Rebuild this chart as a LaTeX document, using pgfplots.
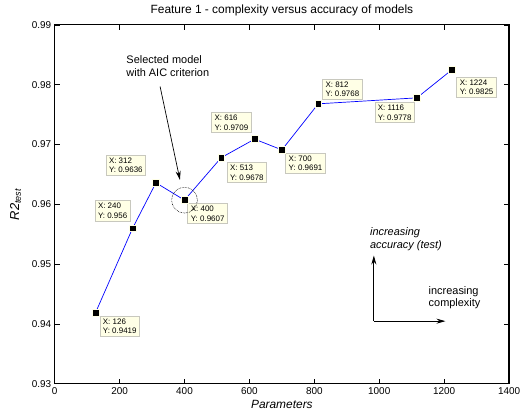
\documentclass[border=0pt]{standalone}
\usepackage{fontspec}
\setmainfont{Liberation Sans}
\usepackage{pgfplots}
\pgfplotsset{compat=1.18}
\usetikzlibrary{arrows.meta}

\definecolor{tipfill}{RGB}{255,255,230}
\definecolor{tipdraw}{RGB}{200,200,190}

\pgfplotstableread{
x    y
126  0.9419
240  0.956
312  0.9636
400  0.9607
513  0.9678
616  0.9709
700  0.9691
812  0.9768
1116 0.9778
1224 0.9825
}\models

\tikzset{
  tip/.style={draw=tipdraw, fill=tipfill, line width=0.8pt, align=left,
    font=\fontsize{8}{9.5}\selectfont, inner xsep=3pt, inner ysep=2.5pt},
  note/.style={align=left, font=\fontsize{11}{12.5}\selectfont, inner sep=0pt}
}

\begin{document}
\begin{tikzpicture}
% 1 px of the reference = 1 pt; axis box south west corner at (0,0)
\useasboundingbox (-55pt,-29pt) rectangle (469pt,386pt);
\begin{axis}[
    scale only axis,
    width=457pt, height=361pt,
    xmin=0, xmax=1400, ymin=0.93, ymax=0.99,
    xtick={0,200,...,1400},
    ytick={0.93,0.94,...,0.99},
    yticklabel style={/pgf/number format/.cd, fixed, fixed zerofill, precision=2},
    xticklabel style={/pgf/number format/set thousands separator={}},
    /pgf/number format/assume math mode=true,
    tick label style={font=\fontsize{10}{12}\selectfont},
    tick align=inside,
    major tick length=5pt,
    tick style={black, line width=0.6pt},
    axis line style={line width=1.2pt},
    title={Feature 1 - complexity versus accuracy of models},
    title style={font=\fontsize{12}{14}\selectfont, at={(axis description cs:0.5,1)},
      anchor=south, yshift=1pt, inner sep=2pt},
    xlabel={\itshape Parameters},
    xlabel style={font=\fontsize{12}{14}\selectfont, at={(axis description cs:0.5,-0.042)},
      anchor=north, inner sep=1pt},
    ylabel={\itshape R2\textsubscript{test}},
    ylabel style={font=\fontsize{13}{15}\selectfont, at={(axis description cs:-0.086,0.5)},
      anchor=center, inner sep=0pt},
    clip=false,
]
\addplot[blue, line width=0.7pt, mark=square*,
    mark options={fill=black, draw=tipfill, line width=0.6pt, mark size=3.4pt}]
    table[x=x, y=y] {\models};

% data tips
\node[tip, anchor=north west, xshift=4pt,   yshift=-3pt]   at (axis cs:126,0.9419)  {X: 126\\Y: 0.9419};
\node[tip, anchor=south east, xshift=-2pt,  yshift=7pt]    at (axis cs:240,0.956)   {X: 240\\Y: 0.956};
\node[tip, anchor=south east, xshift=-10pt, yshift=7pt]    at (axis cs:312,0.9636)  {X: 312\\Y: 0.9636};
\node[tip, anchor=north west, xshift=3pt,   yshift=-3pt]   at (axis cs:400,0.9607)  {X: 400\\Y: 0.9607};
\node[tip, anchor=north west, xshift=5.5pt, yshift=-4.5pt] at (axis cs:513,0.9678)  {X: 513\\Y: 0.9678};
\node[tip, anchor=south east, xshift=-3pt,  yshift=6pt]    at (axis cs:616,0.9709)  {X: 616\\Y: 0.9709};
\node[tip, anchor=north west, xshift=3.5pt, yshift=-3pt]   at (axis cs:700,0.9691)  {X: 700\\Y: 0.9691};
\node[tip, anchor=south west, xshift=4pt,   yshift=4pt]    at (axis cs:812,0.9768)  {X: 812\\Y: 0.9768};
\node[tip, anchor=north east, xshift=-2pt,  yshift=-4.6pt] at (axis cs:1116,0.9778) {X: 1116\\Y: 0.9778};
\node[tip, anchor=north west, xshift=4.5pt, yshift=-7pt]   at (axis cs:1224,0.9825) {X: 1224\\Y: 0.9825};

% selected model
\draw[densely dotted, line width=0.6pt] (axis cs:400,0.9607) circle[radius=13pt];
\end{axis}

% annotations (pixel coords: x-55, 386-y)
\node[note, anchor=north west] at (72pt,330pt) {Selected model\\with AIC criterion};
\draw[line width=0.7pt, -{Stealth[length=9pt,width=5pt]}] (106pt,299pt) -- (126pt,205pt);

\node[note, anchor=north west, font=\fontsize{11}{12.5}\selectfont\itshape] at (317pt,157pt)
  {increasing\\accuracy (test)};
\draw[line width=0.8pt, -{Stealth[length=9pt,width=5pt]}] (321pt,63pt) -- (321pt,129pt);
\draw[line width=0.8pt, -{Stealth[length=9pt,width=5pt]}] (321pt,63pt) -- (393pt,63pt);
\node[note, anchor=north west] at (376pt,98pt) {increasing\\complexity};
\end{tikzpicture}
\end{document}
